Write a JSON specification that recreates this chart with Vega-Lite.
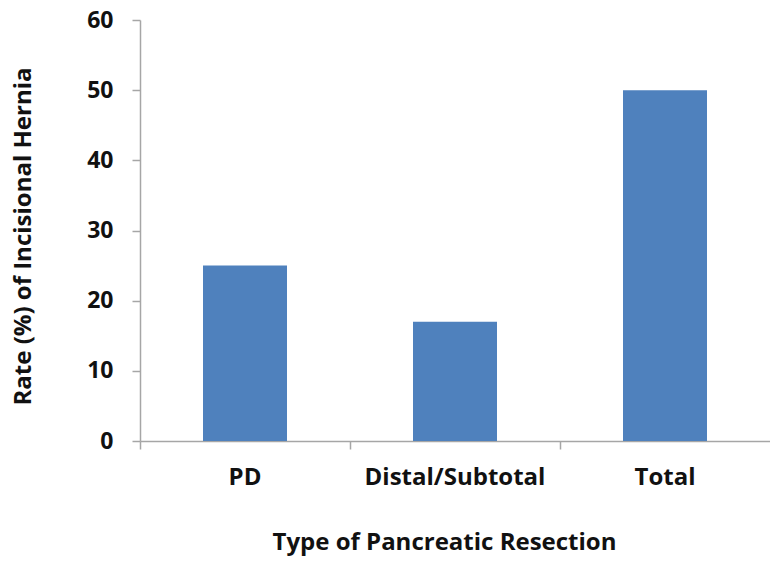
{
  "$schema": "https://vega.github.io/schema/vega-lite/v6.json",
  "width": 630,
  "height": 421,
  "autosize": {"type": "none"},
  "padding": {"left": 140, "top": 20, "right": 0, "bottom": 125},
  "background": "white",
  "config": {
    "view": {"stroke": null},
    "font": "Open Sans"
  },
  "data": {
    "values": [
      {"type": "PD", "rate": 25},
      {"type": "Distal/Subtotal", "rate": 17},
      {"type": "Total", "rate": 50}
    ]
  },
  "layer": [
    {
      "mark": {"type": "bar", "color": "#4F81BD", "width": {"band": 0.4}},
      "encoding": {
        "x": {
          "field": "type",
          "type": "nominal",
          "sort": null,
          "scale": {"paddingInner": 0, "paddingOuter": 0},
          "axis": {
            "orient": "bottom",
            "title": "Type of Pancreatic Resection",
            "titleX": 304,
            "labelAngle": 0,
            "labelLimit": 0,
            "labelFont": "Open Sans",
            "labelFontSize": 24,
            "labelFontWeight": "bold",
            "labelColor": "#111111",
            "labelPadding": 24,
            "ticks": false,
            "domain": false,
            "titleFont": "Open Sans",
            "titleFontSize": 24,
            "titleFontWeight": "bold",
            "titleColor": "#111111",
            "titlePadding": 41
          }
        },
        "y": {
          "field": "rate",
          "type": "quantitative",
          "scale": {"domain": [0, 60]},
          "axis": {
            "title": "Rate (%) of Incisional Hernia",
            "titleY": 216,
            "values": [0, 10, 20, 30, 40, 50, 60],
            "grid": false,
            "domainColor": "#A6A6A6",
            "domainWidth": 1.5,
            "tickColor": "#A6A6A6",
            "tickSize": 8,
            "tickWidth": 1.5,
            "labelFont": "Open Sans",
            "labelFontSize": 23,
            "labelFontWeight": "bold",
            "labelColor": "#111111",
            "labelPadding": 19,
            "titleFont": "Open Sans",
            "titleFontSize": 24,
            "titleFontWeight": "bold",
            "titleColor": "#111111",
            "titlePadding": 51
          }
        }
      }
    },
    {
      "mark": {"type": "rule", "opacity": 0},
      "encoding": {
        "x": {
          "field": "type",
          "type": "nominal",
          "sort": null,
          "axis": {
            "orient": "bottom",
            "title": null,
            "labels": false,
            "bandPosition": 0,
            "ticks": true,
            "tickSize": 8,
            "tickColor": "#A6A6A6",
            "tickWidth": 1.5,
            "domainColor": "#A6A6A6",
            "domainWidth": 1.5
          }
        }
      }
    }
  ],
  "resolve": {"axis": {"x": "independent"}}
}
